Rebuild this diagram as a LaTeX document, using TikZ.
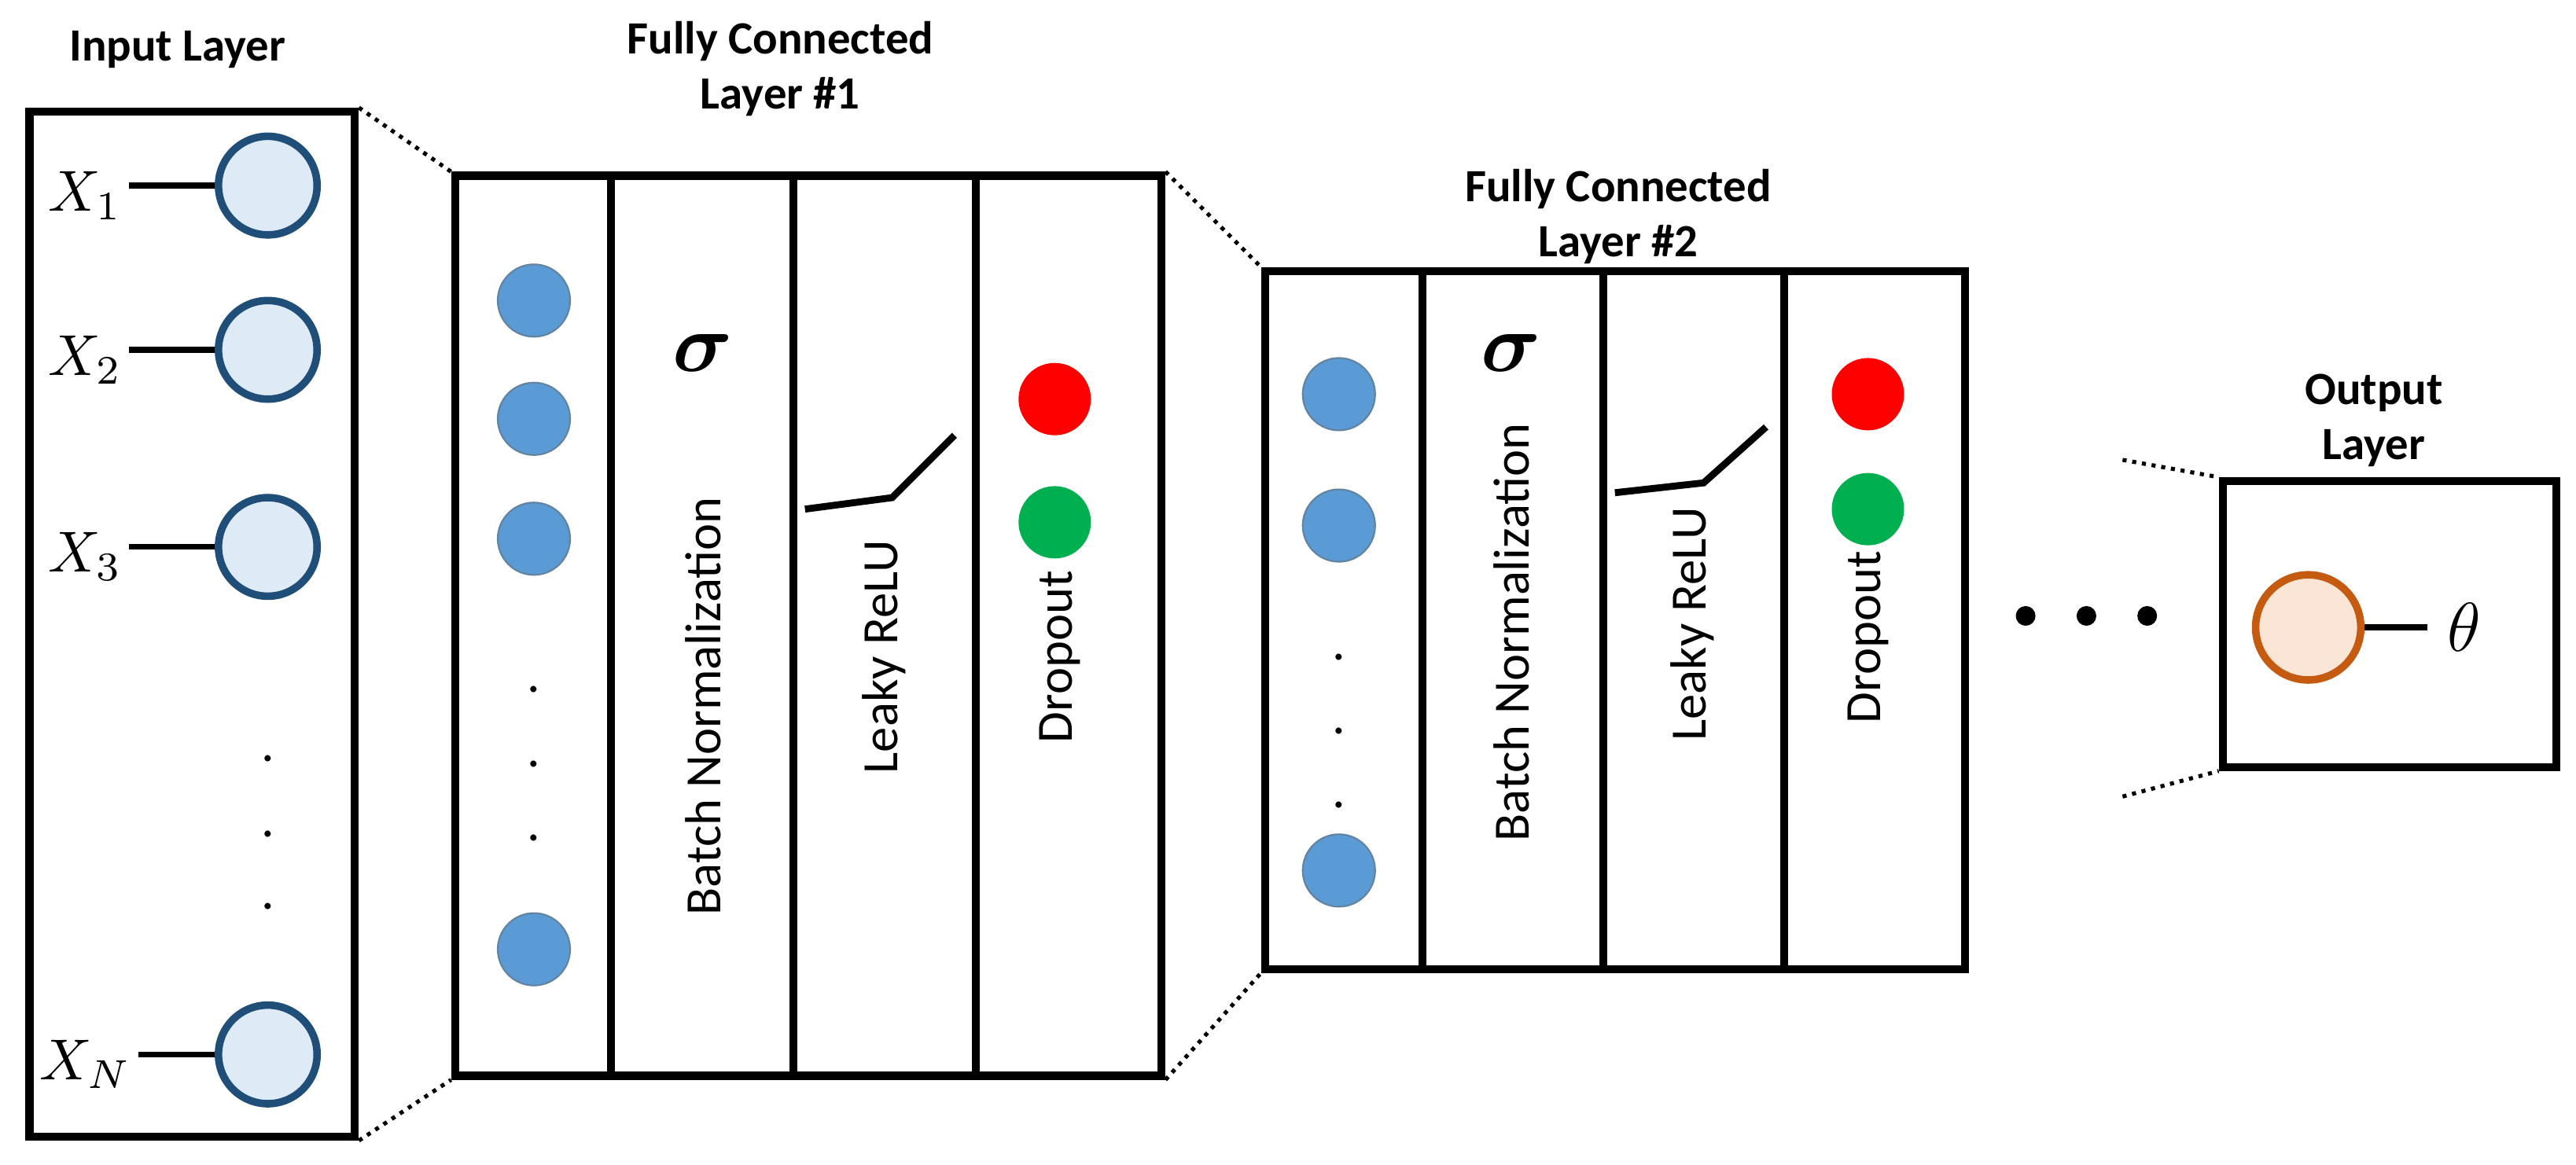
\documentclass[tikz,border=0pt]{standalone}
\usepackage{amsmath}
\usepackage{fontspec}
\setmainfont{Carlito}
\usetikzlibrary{fit,positioning}
\definecolor{inblue}{RGB}{31,78,121}
\definecolor{infill}{RGB}{222,235,247}
\definecolor{hidblue}{RGB}{91,155,213}
\definecolor{dropred}{RGB}{255,0,0}
\definecolor{dropgreen}{RGB}{0,176,80}
\definecolor{outorange}{RGB}{197,90,17}
\definecolor{outfill}{RGB}{251,229,214}

\begin{document}
\begin{tikzpicture}[x=0.01cm, y=-0.01cm]
\tikzset{
  box/.style={draw, line width=1.4pt, inner sep=0pt},
  title/.style={font=\fontsize{8}{9.5}\selectfont\bfseries, align=center},
  inneur/.style={circle, draw=inblue, line width=1.3pt, fill=infill, minimum size=0.6cm, inner sep=0pt},
  hidneur/.style={circle, draw=inblue!70, line width=0.3pt, fill=hidblue, minimum size=0.44cm, inner sep=0pt},
  drop/.style={circle, minimum size=0.44cm, inner sep=0pt},
  vtext/.style={rotate=90, font=\fontsize{8.8}{10}\selectfont},
  dots/.style={font=\fontsize{9}{10}\selectfont},
  zoomline/.style={densely dotted, line width=0.7pt},
}
\useasboundingbox (0,0) rectangle (1568,709);

% input layer
\node[box, fit={(18,68)(216,692)}] (inbox) {};
\node[title] at (108,30) {Input Layer};
\foreach \i/\y/\s in {1/113/1, 2/213/2, 3/333/3, 4/642/N} {
  \node[inneur] (x\i) at (163,\y) {};
  \node[inner sep=1pt] (lx\i) at (52,\y+6) {$X_{\s}$};
  \draw[line width=1pt] (lx\i.east |- x\i.west) -- (x\i.west);
}
\foreach \y in {462,508,552} \node[dots] at (163,\y) {.};

% fully connected layer 1
\node[box, fit={(277,107)(707,655)}] (fca) {};
\node[title] at (475,42) {Fully Connected\\Layer \#1};
\foreach \x in {372,483,594} \draw[line width=1.4pt] (\x,107) -- (\x,655);
\foreach \i/\y in {1/183, 2/255, 3/328, 4/578} \node[hidneur] (a\i) at (325,\y) {};
\foreach \y in {420,465,510} \node[dots] at (325,\y) {.};
\node at (428,215) {\Large$\boldsymbol{\sigma}$};
\node[vtext] at (428,430) {Batch Normalization};
\draw[line width=1.2pt] (490,310) -- (543,303) -- (581,265);
\node[vtext] at (538,400) {Leaky ReLU};
\node[drop, fill=dropred] (ra) at (642,243) {};
\node[drop, fill=dropgreen] (ga) at (642,318) {};
\node[vtext] at (645,400) {Dropout};

% fully connected layer 2
\node[box, fit={(770,165)(1196,590)}] (fcb) {};
\node[title] at (985,132) {Fully Connected\\Layer \#2};
\foreach \x in {866,976,1086} \draw[line width=1.4pt] (\x,165) -- (\x,590);
\foreach \i/\y in {1/240, 2/320, 3/530} \node[hidneur] (b\i) at (815,\y) {};
\foreach \y in {400,445,490} \node[dots] at (815,\y) {.};
\node at (920,215) {\Large$\boldsymbol{\sigma}$};
\node[vtext] at (920,385) {Batch Normalization};
\draw[line width=1.2pt] (983,300) -- (1037,294) -- (1075,260);
\node[vtext] at (1030,380) {Leaky ReLU};
\node[drop, fill=dropred] (rb) at (1137,240) {};
\node[drop, fill=dropgreen] (gb) at (1137,310) {};
\node[vtext] at (1137,388) {Dropout};

% ellipsis
\foreach \x in {1233,1270,1307} \fill (\x,375) circle (0.06cm);

% output layer
\node[box, fit={(1353,293)(1556,467)}] (outbox) {};
\node[title] at (1445,256) {Output\\Layer};
\node[circle, draw=outorange, line width=1.3pt, fill=outfill, minimum size=0.64cm, inner sep=0pt] (out) at (1405,382) {};
\node (theta) at (1500,382) {\large$\theta$};
\draw[line width=1pt] (out.east) -- (theta.west);

% zoom lines
\draw[zoomline] (inbox.north east) -- (fca.north west);
\draw[zoomline] (inbox.south east) -- (fca.south west);
\draw[zoomline] (fca.north east) -- (fcb.north west);
\draw[zoomline] (fca.south east) -- (fcb.south west);
\coordinate (ct) at (1292,280);
\coordinate (cb) at (1292,485);
\draw[zoomline] (ct) -- (outbox.north west);
\draw[zoomline] (cb) -- (outbox.south west);
\end{tikzpicture}
\end{document}
